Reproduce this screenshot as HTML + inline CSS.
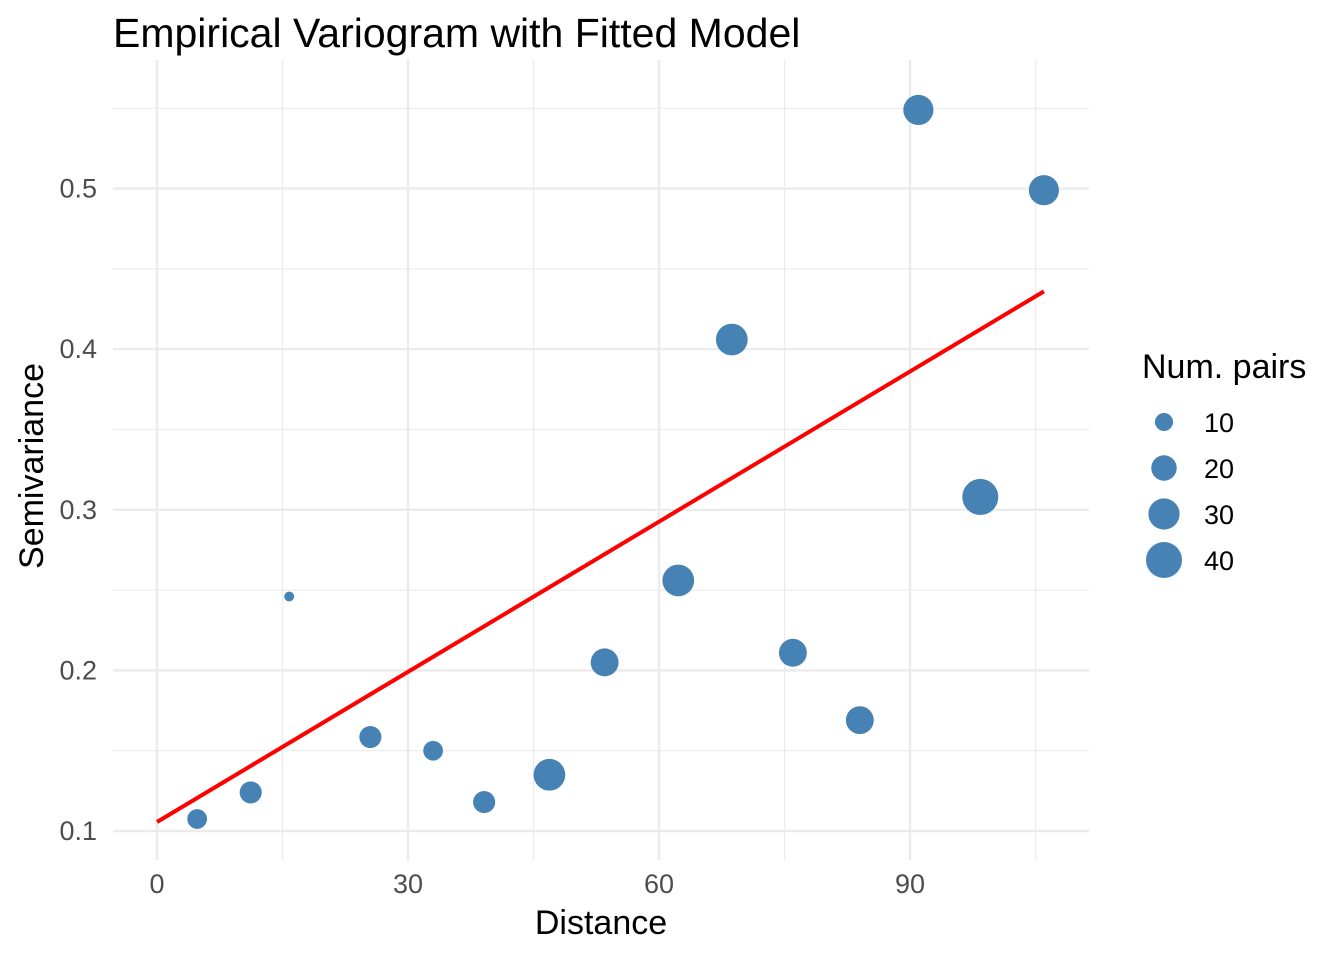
<!DOCTYPE html>
<html><head><meta charset="utf-8"><style>
body{margin:0;background:#fff}
svg{font-family:"Liberation Sans",sans-serif;display:block}
</style></head><body>
<svg id="c" width="1344" height="960">
<text x="113" y="47" font-size="41" fill="#000">Empirical Variogram with Fitted Model</text>
<g id="grid"></g>
<g id="marks"></g>
<text x="601" y="934" font-size="34" text-anchor="middle" fill="#000">Distance</text>
<text transform="translate(43,466) rotate(-90)" font-size="34" text-anchor="middle" fill="#000">Semivariance</text>
<g id="legend">
<text x="1142" y="378" font-size="34" fill="#000">Num. pairs</text>
</g>
</svg>
<script>
const dist=[4.8,11.2,15.8,25.5,33.0,39.1,46.9,53.5,62.3,68.7,76.0,84.0,91.0,98.4,106.0];
const gamma=[0.1075,0.124,0.246,0.1585,0.150,0.118,0.135,0.205,0.256,0.406,0.211,0.169,0.549,0.308,0.499];
const npairs=[12,15,3,15,12,15,31,24,31,31,24,24,28,40,28];
const xTicks=[0,30,60,90];
const yTicks=[0.1,0.2,0.3,0.4,0.5];
const fitStart=[0,0.1056];
const fitEnd=[106,0.436];
const legendVals=[10,20,30,40];

const NS="http://www.w3.org/2000/svg";
const X=v=>157+v*8.367;
const Y=v=>831-(v-0.1)*1606;
const R=n=>2.85*Math.sqrt(n);
function mk(tag,attrs,parent){const e=document.createElementNS(NS,tag);for(const k in attrs)e.setAttribute(k,attrs[k]);parent.appendChild(e);return e;}
const grid=document.getElementById('grid'),marks=document.getElementById('marks'),leg=document.getElementById('legend');
const L=113,Rt=1089,T=60,B=860;
[15,45,75,105].forEach(v=>{const l=mk('line',{x1:X(v),x2:X(v),y1:T,y2:B,stroke:'#ebebeb','stroke-width':1.2},grid);

});
[0.15,0.25,0.35,0.45,0.55].forEach(v=>{const l=mk('line',{x1:L,x2:Rt,y1:Y(v),y2:Y(v),stroke:'#ebebeb','stroke-width':1.2},grid);

});
xTicks.forEach(v=>{const l=mk('line',{x1:X(v),x2:X(v),y1:T,y2:B,stroke:'#ebebeb','stroke-width':2.4},grid);


const t=mk('text',{x:X(v),y:893,'font-size':27,fill:'#4d4d4d','text-anchor':'middle'},grid);t.textContent=v;

});
yTicks.forEach(v=>{const l=mk('line',{x1:L,x2:Rt,y1:Y(v),y2:Y(v),stroke:'#ebebeb','stroke-width':2.4},grid);


const t=mk('text',{x:97,y:Y(v)+9,'font-size':27,fill:'#4d4d4d','text-anchor':'end'},grid);t.textContent=v.toFixed(1);

});
dist.forEach((d,i)=>{const c=mk('circle',{cx:X(d),cy:Y(gamma[i]),r:R(npairs[i]),fill:'#4682b4'},marks);

});
const fl=mk('line',{x1:X(fitStart[0]),y1:Y(fitStart[1]),x2:X(fitEnd[0]),y2:Y(fitEnd[1]),stroke:'#ff0000','stroke-width':4},marks);


legendVals.forEach((v,i)=>{const y=422+i*46;
const c=mk('circle',{cx:1164,cy:y,r:R(v),fill:'#4682b4'},leg);


const t=mk('text',{x:1204,y:y+10,'font-size':27,fill:'#000'},leg);t.textContent=v;

});
</script>
</body></html>
